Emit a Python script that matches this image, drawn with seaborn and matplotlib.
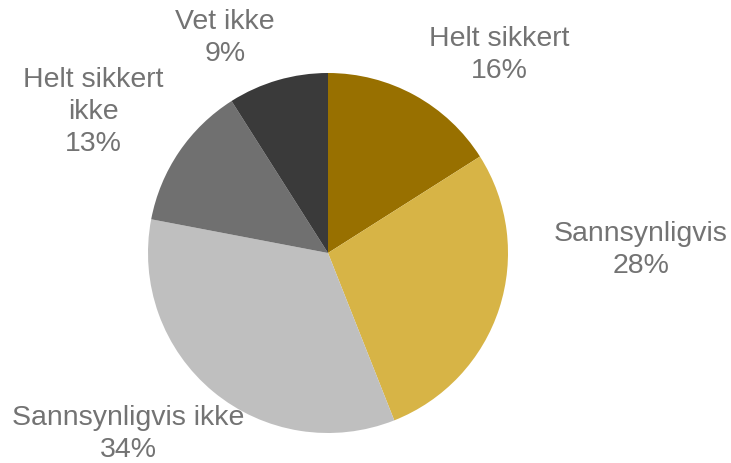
import matplotlib
matplotlib.use("Agg")
import matplotlib.pyplot as plt
import seaborn as sns

categories = ["Helt sikkert", "Sannsynligvis", "Sannsynligvis ikke", "Helt sikkert ikke", "Vet ikke"]
label_texts = ["Helt sikkert", "Sannsynligvis", "Sannsynligvis ikke", "Helt sikkert\nikke", "Vet ikke"]
values = [16, 28, 34, 13, 9]
colors = ["#987000", "#D7B446", "#BFBFBF", "#707070", "#3A3A3A"]

# label centres in pixel coords (x, y from top)
label_pos = [(499, 55), (641, 250), (128, 434), (93, 112), (225, 38)]

sns.set_theme(style="white")
plt.rcParams["font.family"] = ["Liberation Sans", "DejaVu Sans"]

W, H = 731, 464
fig = plt.figure(figsize=(W / 100, H / 100), dpi=100)
ax = fig.add_axes([0, 0, 1, 1])
ax.pie(values, colors=colors, startangle=90, counterclock=False,
       center=(328, H - 254), radius=180, frame=True,
       wedgeprops=dict(linewidth=0))
ax.set_xlim(0, W)
ax.set_ylim(0, H)
ax.set_aspect("equal")
ax.axis("off")

for txt, v, (x, y) in zip(label_texts, values, label_pos):
    ax.text(x, H - y, f"{txt}\n{v}%", ha="center", va="center",
            fontsize=20.5, color="#737373", linespacing=1.3)

fig.savefig("out.png", dpi=100, facecolor="white")
